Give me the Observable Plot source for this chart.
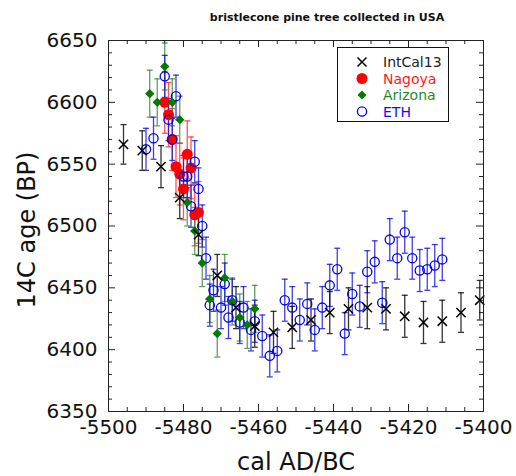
<!DOCTYPE html>
<html><head><meta charset="utf-8">
<script src="https://cdn.jsdelivr.net/npm/d3@7"></script>
<script src="https://cdn.jsdelivr.net/npm/@observablehq/plot@0.6"></script>
<style>
body{margin:0;background:#fff;}
#wrap{position:relative;width:516px;height:476px;font-family:"DejaVu Sans",sans-serif;color:#111;}
#wrap svg.plot{position:absolute;left:0;top:0;}
.lbl{position:absolute;white-space:nowrap;}
#title{left:327px;top:10px;transform:translateX(-50%);font-weight:bold;font-size:11px;line-height:16px;}
#xlab{left:296px;top:448px;transform:translateX(-50%);font-size:24px;line-height:28px;}
#ylab{left:27px;top:230px;transform:translate(-50%,-50%) rotate(-90deg);font-size:24px;line-height:28px;}
#legend{position:absolute;left:337px;top:47px;}
</style></head><body>
<div id="wrap"></div>
<script>
// ---- tick values ----
const xMajor = [-5500, -5480, -5460, -5440, -5420, -5400];
const yMajor = [6350, 6400, 6450, 6500, 6550, 6600, 6650];
const xMinor = d3.range(-5500, -5399, 5).filter(v => !xMajor.includes(v));
const yMinor = d3.range(6350, 6651, 10).filter(v => !yMajor.includes(v));

// ---- IntCal13 ----
const intcalYear = [-5496, -5491, -5486, -5481, -5476, -5471, -5466, -5461, -5456, -5451, -5446, -5441, -5436, -5431, -5426, -5421, -5416, -5411, -5406, -5401];
const intcalAge  = [6566, 6561, 6548, 6523, 6493, 6460, 6434, 6419, 6414, 6418, 6424, 6430, 6433, 6434, 6433, 6427, 6422, 6423, 6430, 6440];
const intcalErr  = [16, 16, 17, 17, 17, 17, 17, 17, 17, 17, 17, 17, 17, 17, 17, 17, 17, 17, 16, 16];

// ---- Nagoya ----
const nagoyaYear = [-5485, -5484, -5483, -5479, -5482, -5478, -5481, -5480, -5477, -5476];
const nagoyaAge  = [6600, 6590, 6570, 6558, 6548, 6547, 6542, 6530, 6509, 6511];
const nagoyaErr  = [25, 26, 25, 27, 25, 25, 25, 25, 25, 25];

// ---- Arizona ----
const arizonaYear = [-5489, -5487, -5485, -5483, -5481, -5479, -5477, -5475, -5473, -5471, -5469, -5467, -5465, -5463, -5461];
const arizonaAge  = [6607, 6600, 6629, 6600, 6586, 6519, 6496, 6470, 6441, 6413, 6458, 6439, 6426, 6420, 6433];
const arizonaErr  = [19, 19, 19, 19, 19, 19, 19, 19, 19, 19, 19, 19, 19, 19, 19];

// ---- ETH ----
const ethYear = [-5490, -5488, -5485, -5484, -5483, -5482, -5480, -5479, -5478, -5477, -5476, -5475, -5474, -5473, -5472, -5470, -5469, -5468, -5467, -5465, -5464, -5462, -5461, -5459, -5457, -5455, -5453, -5451, -5449, -5447, -5445, -5443, -5441, -5439, -5437, -5435, -5433, -5431, -5429, -5427, -5425, -5423, -5421, -5419, -5417, -5415, -5413, -5411];
const ethAge  = [6562, 6571, 6621, 6586, 6570, 6605, 6540, 6540, 6516, 6552, 6530, 6500, 6474, 6436, 6448, 6434, 6453, 6426, 6440, 6422, 6434, 6416, 6423, 6411, 6395, 6399, 6440, 6434, 6424, 6437, 6416, 6434, 6452, 6465, 6413, 6445, 6435, 6463, 6471, 6438, 6489, 6474, 6495, 6474, 6464, 6465, 6468, 6473];
const ethErr = ethYear.map(() => 17);

const rows = (ys, as, es) => ys.map((y, i) => ({year: y, age: as[i], err: es[i]}));
const intcal = rows(intcalYear, intcalAge, intcalErr);
const nagoya = rows(nagoyaYear, nagoyaAge, nagoyaErr);
const arizona = rows(arizonaYear, arizonaAge, arizonaErr);
const eth = rows(ethYear, ethAge, ethErr);

const W = 516, H = 476, mL = 108, mR = 33, mT = 40, mB = 65;
const innerW = W - mL - mR, innerH = H - mT - mB;

const cap = {draw(ctx) { ctx.moveTo(-3, 0); ctx.lineTo(3, 0); }};
function errBars(data, color, op) {
  const o = {x: "year", stroke: color, strokeWidth: 1.3, strokeOpacity: op};
  return [
    Plot.ruleX(data, {...o, y1: d => d.age - d.err, y2: d => d.age + d.err}),
    Plot.dot(data, {...o, y: d => d.age - d.err, symbol: cap}),
    Plot.dot(data, {...o, y: d => d.age + d.err, symbol: cap})
  ];
}

const chart = Plot.plot({
  width: W, height: H,
  marginLeft: mL, marginRight: mR, marginTop: mT, marginBottom: mB,
  style: {fontFamily: "DejaVu Sans, sans-serif", background: "white", color: "#111"},
  x: {domain: [-5500, -5400]},
  y: {domain: [6350, 6650]},
  marks: [
    // ticks inward on all sides
    Plot.tickX(xMajor, {x: d => d, insetTop: innerH - 7, stroke: "#222"}),
    Plot.tickX(xMinor, {x: d => d, insetTop: innerH - 4, stroke: "#222"}),
    Plot.tickX(xMajor, {x: d => d, insetBottom: innerH - 7, stroke: "#222"}),
    Plot.tickX(xMinor, {x: d => d, insetBottom: innerH - 4, stroke: "#222"}),
    Plot.tickY(yMajor, {y: d => d, insetRight: innerW - 7, stroke: "#222"}),
    Plot.tickY(yMinor, {y: d => d, insetRight: innerW - 4, stroke: "#222"}),
    Plot.tickY(yMajor, {y: d => d, insetLeft: innerW - 7, stroke: "#222"}),
    Plot.tickY(yMinor, {y: d => d, insetLeft: innerW - 4, stroke: "#222"}),
    Plot.axisX(xMajor, {tickSize: 0, tickPadding: 8, fontSize: 20, tickFormat: d => String(d), label: null, fill: "#111"}),
    Plot.axisY(yMajor, {tickSize: 0, tickPadding: 11, fontSize: 20, tickFormat: d => String(d), label: null, fill: "#111"}),
    // error bars
    ...errBars(nagoya, "#ff2a2a", 0.8),
    ...errBars(arizona, "#2e7d2e", 0.75),
    ...errBars(eth, "#1010e0", 0.8),
    ...errBars(intcal, "#111", 0.85),
    // markers
    Plot.dot(nagoya, {x: "year", y: "age", r: 5.5, fill: "#ff0000", stroke: "none"}),
    Plot.dot(eth, {x: "year", y: "age", r: 4.6, fill: "none", stroke: "#0000ee", strokeWidth: 1.3}),
    Plot.dot(arizona, {x: "year", y: "age", symbol: "diamond2", r: 4.2, fill: "#007a00", stroke: "none"}),
    Plot.dot(intcal, {x: "year", y: "age", symbol: "times", r: 4.3, stroke: "#000", strokeWidth: 1.5}),
    Plot.frame({stroke: "#222"})
  ]
});
chart.classList.add("plot");
const wrap = document.getElementById("wrap");
wrap.appendChild(chart);

// ---- labels ----
const title = "bristlecone pine tree collected in USA";
const xLabel = "cal AD/BC";
const yLabel = "14C age (BP)";
function addLabel(id, text) {
  const d = document.createElement("div");
  d.id = id; d.className = "lbl"; d.textContent = text;
  wrap.appendChild(d);
}
addLabel("title", title);
addLabel("xlab", xLabel);
addLabel("ylab", yLabel);

// ---- legend ----
const legendNames = ["IntCal13", "Nagoya", "Arizona", "ETH"];
const legendColors = ["#222", "#ff1a1a", "#1f8a1f", "#1010ee"];
const lg = d3.select(wrap).append("svg").attr("id", "legend")
  .attr("width", 112).attr("height", 75);
lg.append("rect").attr("x", 0.5).attr("y", 0.5).attr("width", 111).attr("height", 74)
  .attr("fill", "white").attr("stroke", "#111");
const rowY = i => 15 + i * 16.5;
const mx = 25;
legendNames.forEach((name, i) => {
  const y = rowY(i);
  if (i === 0) {
    lg.append("path").attr("d", `M${mx-4.5},${y-4.5}L${mx+4.5},${y+4.5}M${mx-4.5},${y+4.5}L${mx+4.5},${y-4.5}`)
      .attr("stroke", "#000").attr("stroke-width", 1.5);
  } else if (i === 1) {
    lg.append("circle").attr("cx", mx).attr("cy", y).attr("r", 5.5).attr("fill", "#ff0000");
  } else if (i === 2) {
    lg.append("path").attr("d", `M${mx},${y-4.5}L${mx+4.5},${y}L${mx},${y+4.5}L${mx-4.5},${y}Z`).attr("fill", "#007a00");
  } else {
    lg.append("circle").attr("cx", mx).attr("cy", y).attr("r", 4.6).attr("fill", "none")
      .attr("stroke", "#0000ee").attr("stroke-width", 1.3);
  }
  lg.append("text").attr("x", 46).attr("y", y).attr("dy", "0.36em")
    .attr("font-family", "DejaVu Sans, sans-serif").attr("font-size", 14)
    .attr("fill", legendColors[i]).text(name);
});
</script>
</body></html>
